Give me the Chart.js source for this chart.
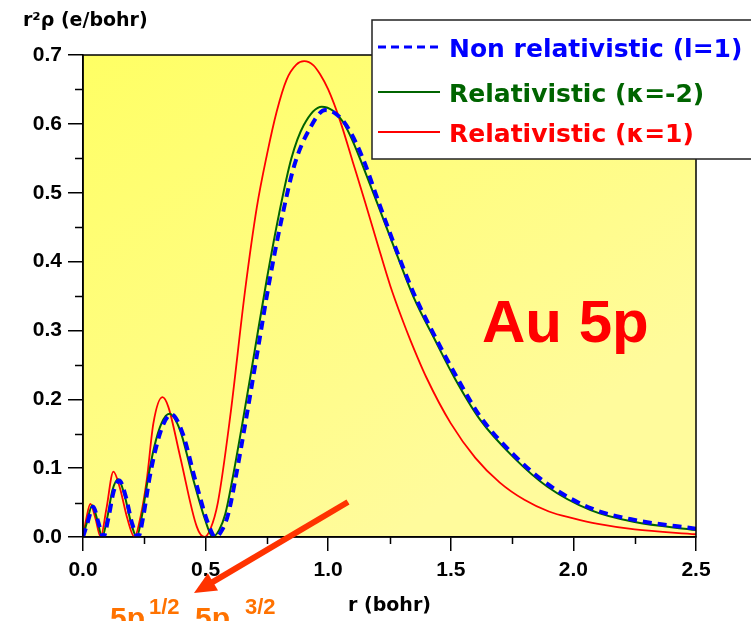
<!DOCTYPE html>
<html>
<head>
<meta charset="utf-8">
<script src="https://cdn.jsdelivr.net/npm/chart.js@4.4.0/dist/chart.umd.min.js"></script>
<style>
  body { margin: 0; background: #fff; }
  #wrap { width: 751px; height: 621px; }
</style>
</head>
<body>
<div id="wrap"><canvas id="grafico" width="751" height="621"></canvas></div>
<script>
// Valores: r (bohr) e r²ρ (e/bohr)
var rNonRel = [0, 0.018, 0.042, 0.062, 0.083, 0.105, 0.125, 0.148, 0.175, 0.2, 0.225, 0.246, 0.271, 0.298, 0.328, 0.36, 0.405, 0.46, 0.508, 0.54, 0.567, 0.592, 0.622, 0.662, 0.712, 0.762, 0.812, 0.862, 0.92, 0.988, 1.03, 1.07, 1.11, 1.15, 1.2, 1.28, 1.35, 1.43, 1.52, 1.62, 1.755, 1.894, 2.07, 2.245, 2.5];
var yNonRel = [0, 0.02, 0.044, 0.022, 0, 0.03, 0.066, 0.082, 0.058, 0.02, 0, 0.03, 0.085, 0.13, 0.164, 0.178, 0.152, 0.08, 0.022, 0, 0.01, 0.033, 0.085, 0.165, 0.27, 0.375, 0.465, 0.54, 0.59, 0.62, 0.615, 0.6, 0.575, 0.542, 0.492, 0.415, 0.353, 0.295, 0.235, 0.175, 0.12, 0.077, 0.042, 0.025, 0.012];

var rRelK2 = [0, 0.015, 0.038, 0.058, 0.078, 0.1, 0.12, 0.144, 0.17, 0.195, 0.219, 0.24, 0.265, 0.29, 0.32, 0.352, 0.396, 0.45, 0.498, 0.529, 0.555, 0.58, 0.61, 0.65, 0.7, 0.75, 0.8, 0.85, 0.9, 0.974, 1.02, 1.06, 1.1, 1.14, 1.2, 1.28, 1.35, 1.43, 1.52, 1.62, 1.755, 1.894, 2.07, 2.245, 2.5];
var yRelK2 = [0, 0.02, 0.046, 0.025, 0, 0.03, 0.068, 0.084, 0.06, 0.022, 0, 0.03, 0.085, 0.13, 0.165, 0.179, 0.155, 0.083, 0.025, 0, 0.01, 0.033, 0.085, 0.165, 0.27, 0.375, 0.47, 0.55, 0.598, 0.625, 0.619, 0.603, 0.575, 0.54, 0.485, 0.41, 0.347, 0.29, 0.228, 0.17, 0.116, 0.073, 0.039, 0.022, 0.01];

var rRelK1 = [0, 0.012, 0.03, 0.05, 0.072, 0.095, 0.124, 0.15, 0.18, 0.21, 0.235, 0.26, 0.287, 0.324, 0.348, 0.396, 0.464, 0.495, 0.52, 0.55, 0.6, 0.661, 0.709, 0.75, 0.79, 0.83, 0.87, 0.902, 0.94, 0.967, 1.0, 1.049, 1.1, 1.15, 1.2, 1.253, 1.3, 1.335, 1.4, 1.5, 1.6, 1.7, 1.8, 1.9, 2.0, 2.1, 2.25, 2.5];
var yRelK1 = [0, 0.024, 0.048, 0.028, 0, 0.04, 0.095, 0.072, 0.028, 0, 0.03, 0.083, 0.165, 0.203, 0.189, 0.117, 0.015, 0, 0.012, 0.05, 0.174, 0.358, 0.479, 0.555, 0.618, 0.664, 0.686, 0.691, 0.685, 0.672, 0.65, 0.604, 0.545, 0.487, 0.427, 0.365, 0.318, 0.286, 0.232, 0.165, 0.115, 0.079, 0.054, 0.037, 0.027, 0.019, 0.011, 0.004];

var nomes = ['Non relativistic (l=1)', 'Relativistic (\u03ba=-2)', 'Relativistic (\u03ba=1)'];
var coresTexto = ['#0000ff', '#006400', '#ff0000'];

function pontos(xs, ys) {
  return xs.map(function (x, i) { return { x: x, y: ys[i] }; });
}

var fonteTicks = 'Liberation Sans';
var fonteTitulo = 'DejaVu Sans';

// fundo, moldura, ticks menores, legenda e anotações
var decoracao = {
  id: 'decoracao',
  beforeDraw: function (chart) {
    var ctx = chart.ctx, a = chart.chartArea;
    ctx.save();
    ctx.fillStyle = '#fff';
    ctx.fillRect(0, 0, chart.width, chart.height);
    var g = ctx.createLinearGradient(a.left, a.top, a.left + (a.right - a.left) * 0.5, a.bottom);
    g.addColorStop(0, '#ffff64');
    g.addColorStop(1, '#fffb9c');
    ctx.fillStyle = g;
    ctx.fillRect(a.left, a.top, a.right - a.left, a.bottom - a.top);
    ctx.restore();
  },
  afterDraw: function (chart) {
    var ctx = chart.ctx, a = chart.chartArea;
    var sx = chart.scales.x, sy = chart.scales.y;
    ctx.save();

    // moldura
    ctx.strokeStyle = '#000';
    ctx.lineWidth = 1.5;
    ctx.strokeRect(a.left, a.top, a.right - a.left, a.bottom - a.top);

    // ticks menores
    ctx.beginPath();
    for (var v = 0.05; v < 0.7; v += 0.1) {
      var py = Math.round(sy.getPixelForValue(v)) + 0.5;
      ctx.moveTo(a.left - 8, py); ctx.lineTo(a.left, py);
    }
    for (var u = 0.25; u < 2.5; u += 0.5) {
      var px = Math.round(sx.getPixelForValue(u)) + 0.5;
      ctx.moveTo(px, a.bottom); ctx.lineTo(px, a.bottom + 7);
    }
    ctx.stroke();

    // título do eixo y
    ctx.fillStyle = '#000';
    ctx.font = 'bold 19px "' + fonteTitulo + '"';
    ctx.textBaseline = 'alphabetic';
    ctx.textAlign = 'left';
    ctx.fillText('r\u00b2\u03c1 (e/bohr)', 23, 26);

    // legenda
    ctx.fillStyle = '#fff';
    ctx.fillRect(372, 20, 390, 139);
    ctx.strokeStyle = '#222';
    ctx.lineWidth = 1.5;
    ctx.strokeRect(372, 20, 390, 139);
    var linhasY = [47, 92, 132];
    chart.data.datasets.forEach(function (ds, i) {
      var y = linhasY[i];
      ctx.strokeStyle = ds.borderColor;
      ctx.lineWidth = i === 0 ? 3 : 2;
      ctx.setLineDash(i === 0 ? [8, 5] : []);
      ctx.beginPath();
      ctx.moveTo(378, y); ctx.lineTo(440, y);
      ctx.stroke();
      ctx.setLineDash([]);
      ctx.fillStyle = coresTexto[i];
      ctx.font = 'bold 25px "' + fonteTitulo + '"';
      ctx.fillText(ds.label, 449, y + 10);
    });

    // Au 5p
    ctx.fillStyle = '#ff0000';
    ctx.font = 'bold 60px "Liberation Sans"';
    ctx.fillText('Au 5p', 482, 342);

    // seta
    var x0 = 348, y0 = 502, x1 = 194, y1 = 593;
    var d = Math.hypot(x1 - x0, y1 - y0), ux = (x1 - x0) / d, uy = (y1 - y0) / d;
    var bx = x1 - 22 * ux, by = y1 - 22 * uy;
    ctx.strokeStyle = '#ff3300';
    ctx.fillStyle = '#ff3300';
    ctx.lineWidth = 6;
    ctx.beginPath();
    ctx.moveTo(x0, y0); ctx.lineTo(bx + 2 * ux, by + 2 * uy);
    ctx.stroke();
    ctx.beginPath();
    ctx.moveTo(x1, y1);
    ctx.lineTo(bx - 10 * uy, by + 10 * ux);
    ctx.lineTo(bx + 10 * uy, by - 10 * ux);
    ctx.closePath();
    ctx.fill();

    // 5p1/2 5p3/2
    ctx.fillStyle = '#ff7200';
    ctx.font = 'bold 30px "Liberation Sans"';
    ctx.fillText('5p', 110, 628);
    ctx.fillText('5p', 195, 628);
    ctx.font = 'bold 22px "Liberation Sans"';
    ctx.fillText('1/2', 149, 614);
    ctx.fillText('3/2', 245, 614);

    ctx.restore();
  }
};

var ctx = document.getElementById('grafico').getContext('2d');

var grafico = new Chart(ctx, {
  type: 'line',
  data: {
    datasets: [{
      label: nomes[0],
      data: pontos(rNonRel, yNonRel),
      borderColor: '#0000ff',
      borderWidth: 4,
      borderDash: [9, 6],
      pointRadius: 0,
      cubicInterpolationMode: 'monotone',
      fill: false
    }, {
      label: nomes[1],
      data: pontos(rRelK2, yRelK2),
      borderColor: '#006400',
      borderWidth: 2,
      pointRadius: 0,
      cubicInterpolationMode: 'monotone',
      fill: false
    }, {
      label: nomes[2],
      data: pontos(rRelK1, yRelK1),
      borderColor: '#ff0000',
      borderWidth: 1.8,
      pointRadius: 0,
      cubicInterpolationMode: 'monotone',
      fill: false
    }]
  },
  options: {
    responsive: false,
    animation: false,
    layout: { padding: { top: 55, right: 55, left: 0, bottom: 0 } },
    plugins: {
      legend: { display: false },
      tooltip: { enabled: false }
    },
    scales: {
      x: {
        type: 'linear',
        min: 0,
        max: 2.5,
        afterFit: function (s) { s.height = 84; },
        grid: { drawOnChartArea: false, tickLength: 14, color: '#000', lineWidth: 1.5 },
        border: { color: '#000', width: 1.5 },
        ticks: {
          stepSize: 0.5,
          maxRotation: 0,
          padding: 7,
          color: '#000',
          font: { family: fonteTicks, weight: 'bold', size: 21 },
          callback: function (v) { return v.toFixed(1); }
        },
        title: {
          display: true,
          text: 'r (bohr)',
          color: '#000',
          font: { family: fonteTitulo, weight: 'bold', size: 19 },
          padding: { top: 0, bottom: 4 }
        }
      },
      y: {
        min: 0,
        max: 0.7,
        afterFit: function (s) { s.width = 83; },
        grid: { drawOnChartArea: false, tickLength: 15, color: '#000', lineWidth: 1.5 },
        border: { color: '#000', width: 1.5 },
        ticks: {
          stepSize: 0.1,
          padding: 6,
          color: '#000',
          font: { family: fonteTicks, weight: 'bold', size: 21 },
          callback: function (v) { return v.toFixed(1); }
        }
      }
    }
  },
  plugins: [decoracao]
});
</script>
</body>
</html>
